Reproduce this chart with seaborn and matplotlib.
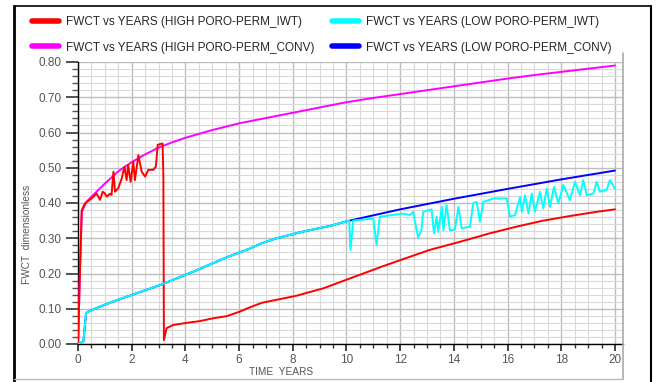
import matplotlib
matplotlib.use("Agg")
import matplotlib.pyplot as plt
from matplotlib.ticker import MultipleLocator, FormatStrFormatter
from matplotlib.lines import Line2D
import seaborn as sns
import pandas as pd

# ---------------- data ----------------
labels = ["FWCT vs YEARS (HIGH PORO-PERM_IWT)",
          "FWCT vs YEARS (HIGH PORO-PERM_CONV)",
          "FWCT vs YEARS (LOW PORO-PERM_IWT)",
          "FWCT vs YEARS (LOW PORO-PERM_CONV)"]
colors = ["#ff0000", "#ff00ff", "#00ffff", "#0000ff"]

high_iwt_x = [0, 0.07, 0.14, 0.26, 0.51, 0.69, 0.82, 0.92, 1.0, 1.07, 1.19, 1.25, 1.32, 1.38, 1.5,
              1.63, 1.73, 1.81, 1.87, 1.96, 2.06, 2.12, 2.25, 2.37, 2.5, 2.62, 2.8, 2.9, 2.97, 3.15,
              3.18, 3.2, 3.3, 3.55, 4.05, 4.54, 5.04, 5.54, 6.03, 6.4, 6.85, 7.5, 8.14, 9.14, 10.13,
              11.37, 12.12, 13.1, 14.23, 15.34, 16.34, 17.33, 18.32, 19.32, 20]
high_iwt_y = [0, 0.2, 0.38, 0.399, 0.413, 0.427, 0.409, 0.432, 0.427, 0.418, 0.426, 0.423, 0.489, 0.432, 0.442,
              0.47, 0.503, 0.465, 0.508, 0.46, 0.517, 0.465, 0.536, 0.489, 0.475, 0.494, 0.494, 0.503, 0.565, 0.569,
              0.475, 0.011, 0.045, 0.054, 0.06, 0.065, 0.073, 0.079, 0.092, 0.104, 0.117, 0.127, 0.137, 0.158, 0.186,
              0.221, 0.241, 0.267, 0.29, 0.314, 0.333, 0.35, 0.363, 0.375, 0.382]

high_conv_x = [0, 0.07, 0.14, 0.32, 0.69, 1.0, 1.5, 2.0, 2.5, 3.0, 3.5, 4.0, 5.0, 6.0, 7.0, 8.0, 9.0,
               10.0, 11.0, 12.0, 13.0, 14.0, 15.0, 16.0, 17.0, 18.0, 19.0, 20.0]
high_conv_y = [0, 0.2, 0.375, 0.404, 0.432, 0.455, 0.49, 0.516, 0.538, 0.557, 0.572, 0.585, 0.607, 0.626,
               0.641, 0.656, 0.671, 0.686, 0.698, 0.709, 0.72, 0.731, 0.742, 0.753, 0.763, 0.772, 0.781, 0.79]

low_iwt_x = [0, 0.2, 0.3, 0.38, 0.82, 1.19, 1.81, 3.05, 4.29, 5.54, 6.41, 6.78, 7.4, 8.39, 9.39, 10.0,
             10.1, 10.15, 10.25, 11.0, 11.12, 11.24, 12.11, 12.36, 12.48, 12.67, 12.79, 12.86, 13.17, 13.26,
             13.36, 13.42, 13.55, 13.61, 13.73, 13.85, 14.04, 14.17, 14.29, 14.6, 14.72, 14.85, 14.97, 15.1,
             15.47, 15.97, 16.09, 16.28, 16.47, 16.53, 16.65, 16.78, 16.9, 17.02, 17.21, 17.33, 17.46, 17.58,
             17.73, 17.89, 18.08, 18.32, 18.51, 18.7, 18.82, 18.95, 19.2, 19.32, 19.44, 19.69, 19.81, 20.0]
low_iwt_y = [0, 0.007, 0.087, 0.092, 0.106, 0.117, 0.134, 0.167, 0.205, 0.246, 0.271, 0.284, 0.3, 0.319, 0.335, 0.348,
             0.35, 0.267, 0.35, 0.356, 0.281, 0.361, 0.37, 0.366, 0.375, 0.302, 0.323, 0.375, 0.382, 0.314,
             0.361, 0.318, 0.389, 0.323, 0.394, 0.323, 0.325, 0.389, 0.328, 0.333, 0.399, 0.403, 0.347, 0.403,
             0.413, 0.413, 0.361, 0.366, 0.418, 0.375, 0.422, 0.37, 0.427, 0.375, 0.432, 0.385, 0.441, 0.389,
             0.446, 0.399, 0.451, 0.408, 0.46, 0.422, 0.465, 0.422, 0.427, 0.46, 0.432, 0.437, 0.465, 0.441]

low_conv_x = [0, 0.2, 0.3, 0.38, 0.82, 1.19, 1.81, 3.05, 4.29, 5.54, 6.41, 6.78, 7.4, 8.39, 9.39, 10.0,
              12.0, 14.0, 16.0, 18.0, 20.0]
low_conv_y = [0, 0.007, 0.087, 0.092, 0.106, 0.117, 0.134, 0.167, 0.205, 0.246, 0.271, 0.284, 0.3, 0.319, 0.335, 0.348,
              0.382, 0.412, 0.44, 0.467, 0.492]

x_ticks = [0, 2, 4, 6, 8, 10, 12, 14, 16, 18, 20]
y_ticks = [0.0, 0.1, 0.2, 0.3, 0.4, 0.5, 0.6, 0.7, 0.8]

# ---------------- figure ----------------
sns.set_style("white")
plt.rcParams['font.family'] = ['Liberation Sans', 'DejaVu Sans']

W, H = 657, 382
fig = plt.figure(figsize=(W / 100, H / 100), dpi=100)
ax = fig.add_axes([78 / W, 1 - 344 / H, (623 - 78) / W, (344 - 62) / H])

series = [(high_conv_x, high_conv_y, 1), (high_iwt_x, high_iwt_y, 0),
          (low_conv_x, low_conv_y, 3), (low_iwt_x, low_iwt_y, 2)]
for xs, ys, idx in series:
    df = pd.DataFrame({"YEARS": xs, "FWCT": ys})
    sns.lineplot(data=df, x="YEARS", y="FWCT", ax=ax, color=colors[idx], lw=1.4,
                 sort=False, estimator=None, legend=False, zorder=3)

ax.set_xlim(0, 20.3)
ax.set_ylim(0, 0.8)
ax.set_xticks(x_ticks)
ax.set_yticks(y_ticks)
ax.xaxis.set_minor_locator(MultipleLocator(0.5))
ax.yaxis.set_minor_locator(MultipleLocator(0.02))
ax.yaxis.set_major_formatter(FormatStrFormatter('%.2f'))
ax.set_xlabel("")
ax.set_ylabel("")

ax.grid(which='major', color='#bdbdbd', lw=1.0)
ax.grid(which='minor', color='#d9d9d9', lw=0.8)
ax.set_axisbelow(True)

for s in ['top', 'right']:
    ax.spines[s].set_visible(False)
for s in ['left', 'bottom']:
    ax.spines[s].set_color('black')
    ax.spines[s].set_linewidth(1.0)

ax.tick_params(axis='y', which='major', direction='out', length=8.6, width=1.2, color='#333333',
               labelsize=8.5, labelcolor='#555555', pad=3, left=True)
ax.tick_params(axis='y', which='minor', direction='out', length=4.3, width=1.0, color='#555555', left=True)
ax.tick_params(axis='x', which='major', direction='out', length=5, width=1.2, color='#222222',
               labelsize=8.5, labelcolor='#555555', pad=2, bottom=True)
ax.tick_params(axis='x', which='minor', direction='out', length=2.8, width=1.0, color='#333333', bottom=True)

fig.text(27 / W, 1 - 234 / H, "FWCT  dimensionless", rotation=90, ha='center', va='center',
         fontsize=7.3, color='#555555')
fig.text(281 / W, 1 - 372 / H, "TIME  YEARS", ha='center', va='center', fontsize=7.3, color='#555555')

# legend: two columns placed separately
leg_prop = {'family': ['Liberation Sans', 'DejaVu Sans'], 'size': 8.5}
handles = [Line2D([], [], color=c, lw=4.0) for c in colors]
common = dict(loc='upper left', frameon=False, handlelength=2.3, handletextpad=0.6,
              labelspacing=1.15, borderpad=0, borderaxespad=0, prop=leg_prop)
fig.legend(handles[:2], labels[:2], bbox_to_anchor=(32 / W, 1 - 16 / H), **common)
fig.legend(handles[2:], labels[2:], bbox_to_anchor=(332 / W, 1 - 16 / H), **common)

# frames
def fline(x0, y0, x1, y1, **kw):
    fig.add_artist(Line2D([x0 / W, x1 / W], [1 - y0 / H, 1 - y1 / H], transform=fig.transFigure, **kw))

fline(14, 6, 651, 6, color='black', lw=1.2)
fline(14, 6, 14, 382, color='black', lw=2.0)
fline(651, 6, 651, 382, color='black', lw=1.5)
fline(623, 53, 623, 379, color='#aaaaaa', lw=1.2)
fline(14, 379, 623, 379, color='#bbbbbb', lw=1.0)

fig.savefig("out.png", dpi=100)
